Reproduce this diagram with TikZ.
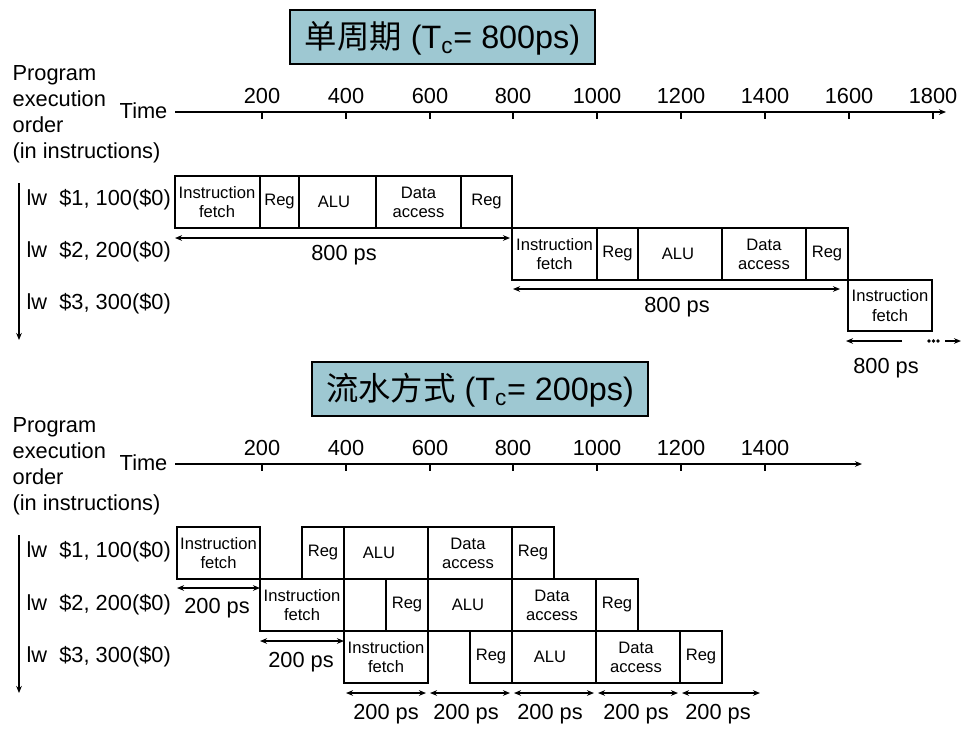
\documentclass[tikz,border=0pt]{standalone}
\usepackage{fontspec}
\setmainfont{Liberation Sans}
\newfontfamily\cjk{Noto Sans CJK SC}
\usetikzlibrary{arrows.meta}
\definecolor{titlefill}{RGB}{158,200,210}

\begin{document}
\begin{tikzpicture}[x=0.025cm, y=-0.025cm, line width=0.9pt,
    lbl/.style={font=\fontsize{15.5}{18.6}\selectfont, inner sep=0pt},
    stagetxt/.style={font=\fontsize{11.8}{13.6}\selectfont, align=center, inner sep=0pt},
    titlebox/.style={draw, line width=1.6pt, fill=titlefill},
    titletxt/.style={font=\fontsize{23}{27}\selectfont, inner sep=0pt},
    tip/.style={-{Stealth[length=5pt,width=4pt]}},
    both/.style={{Stealth[length=5pt,width=4pt]}-{Stealth[length=5pt,width=4pt]}}]
        \useasboundingbox (0,0) rectangle (972,731);

        % single cycle
        \draw[titlebox] (290,10) rectangle (595,64);
        \node[titletxt] (single) at (442.5,38) {{\cjk 单周期} (T\textsubscript{c}= 800ps)};

        \node[lbl, align=left, anchor=west] (order1) at (12,114) {Program\\execution\\order\\(in instructions)};
        \node[lbl, anchor=east] (time1) at (168,111) {Time};
        \draw[tip] (175,112) -- (946,112);
        \draw (262,112) -- (262,119);
        \draw (346,112) -- (346,119);
        \draw (430,112) -- (430,119);
        \draw (513,112) -- (513,119);
        \draw (597,112) -- (597,119);
        \draw (681,112) -- (681,119);
        \draw (765,112) -- (765,119);
        \draw (849,112) -- (849,119);
        \draw (933,112) -- (933,119);
        \node[lbl] (top200) at (262,96) {200};
        \node[lbl] (top400) at (346,96) {400};
        \node[lbl] (top600) at (430,96) {600};
        \node[lbl] (top800) at (513,96) {800};
        \node[lbl] (top1000) at (597,96) {1000};
        \node[lbl] (top1200) at (681,96) {1200};
        \node[lbl] (top1400) at (765,96) {1400};
        \node[lbl] (top1600) at (849,96) {1600};
        \node[lbl] (top1800) at (933,96) {1800};

        \node[lbl, anchor=west] (toplw1) at (26,200) {lw\ \ \$1, 100(\$0)};
        \node[lbl, anchor=west] (toplw2) at (26,252) {lw\ \ \$2, 200(\$0)};
        \node[lbl, anchor=west] (toplw3) at (26,304) {lw\ \ \$3, 300(\$0)};
        \draw[tip] (19,183) -- (19,340);

        \draw (175,176) rectangle (512,228);
        \draw (260,176) -- (260,228);
        \draw (299,176) -- (299,228);
        \draw (376,176) -- (376,228);
        \draw (461,176) -- (461,228);
        \node[stagetxt] (topif1) at (217,202) {Instruction\\fetch};
        \node[stagetxt] (topreg1a) at (279.5,202) {Reg};
        \node[stagetxt] (topalu1) at (334,202) {ALU};
        \node[stagetxt] (topdm1) at (418.5,202) {Data\\access};
        \node[stagetxt] (topreg1b) at (486.5,202) {Reg};

        \draw (512,228) rectangle (848,280);
        \draw (597,228) -- (597,280);
        \draw (638,228) -- (638,280);
        \draw (722,228) -- (722,280);
        \draw (806,228) -- (806,280);
        \node[stagetxt] (topif2) at (554.5,254) {Instruction\\fetch};
        \node[stagetxt] (topreg2a) at (617.5,254) {Reg};
        \node[stagetxt] (topalu2) at (678,254) {ALU};
        \node[stagetxt] (topdm2) at (764,254) {Data\\access};
        \node[stagetxt] (topreg2b) at (827,254) {Reg};

        \draw (848,280) rectangle (932,331);
        \node[stagetxt] (topif3) at (890,305.5) {Instruction\\fetch};

        \draw[both] (175,238) -- (510,238);
        \node[lbl] (span1) at (344,255) {800 ps};
        \draw[both] (513,289) -- (840,289);
        \node[lbl] (span2) at (677,307) {800 ps};
        \draw[tip] (902,341) -- (846,341);
        \fill (929,341) circle[radius=1.3pt];
        \fill (933.5,341) circle[radius=1.3pt];
        \fill (938,341) circle[radius=1.3pt];
        \draw[tip] (945,341) -- (961,341);
        \node[lbl] (span3) at (886,368) {800 ps};

        % pipelined
        \draw[titlebox] (312,362) rectangle (648,416);
        \node[titletxt] (pipe) at (480,390) {{\cjk 流水方式} (T\textsubscript{c}= 200ps)};

        \node[lbl, align=left, anchor=west] (order2) at (12,466) {Program\\execution\\order\\(in instructions)};
        \node[lbl, anchor=east] (time2) at (168,463) {Time};
        \draw[tip] (175,464) -- (862,464);
        \draw (262,464) -- (262,471);
        \draw (346,464) -- (346,471);
        \draw (430,464) -- (430,471);
        \draw (513,464) -- (513,471);
        \draw (597,464) -- (597,471);
        \draw (681,464) -- (681,471);
        \draw (765,464) -- (765,471);
        \node[lbl] (bot200) at (262,448) {200};
        \node[lbl] (bot400) at (346,448) {400};
        \node[lbl] (bot600) at (430,448) {600};
        \node[lbl] (bot800) at (513,448) {800};
        \node[lbl] (bot1000) at (597,448) {1000};
        \node[lbl] (bot1200) at (681,448) {1200};
        \node[lbl] (bot1400) at (765,448) {1400};

        \node[lbl, anchor=west] (botlw1) at (26,552) {lw\ \ \$1, 100(\$0)};
        \node[lbl, anchor=west] (botlw2) at (26,605) {lw\ \ \$2, 200(\$0)};
        \node[lbl, anchor=west] (botlw3) at (26,657) {lw\ \ \$3, 300(\$0)};
        \draw[tip] (19,535) -- (19,693);

        \draw (177,527) rectangle (260,579);
        \draw (302,527) rectangle (554,579);
        \draw (344,527) -- (344,579);
        \draw (428,527) -- (428,579);
        \draw (512,527) -- (512,579);
        \node[stagetxt] (botif1) at (218.5,553) {Instruction\\fetch};
        \node[stagetxt] (botreg1a) at (323,553) {Reg};
        \node[stagetxt] (botalu1) at (379,553) {ALU};
        \node[stagetxt] (botdm1) at (468,553) {Data\\access};
        \node[stagetxt] (botreg1b) at (533,553) {Reg};

        \draw (260,579) rectangle (344,631);
        \draw (386,579) rectangle (638,631);
        \draw (428,579) -- (428,631);
        \draw (512,579) -- (512,631);
        \draw (596,579) -- (596,631);
        \node[stagetxt] (botif2) at (302,605) {Instruction\\fetch};
        \node[stagetxt] (botreg2a) at (407,605) {Reg};
        \node[stagetxt] (botalu2) at (468,605) {ALU};
        \node[stagetxt] (botdm2) at (552,605) {Data\\access};
        \node[stagetxt] (botreg2b) at (617,605) {Reg};

        \draw (344,631) rectangle (428,683);
        \draw (470,631) rectangle (722,683);
        \draw (512,631) -- (512,683);
        \draw (596,631) -- (596,683);
        \draw (680,631) -- (680,683);
        \node[stagetxt] (botif3) at (386,657) {Instruction\\fetch};
        \node[stagetxt] (botreg3a) at (491,657) {Reg};
        \node[stagetxt] (botalu3) at (550,657) {ALU};
        \node[stagetxt] (botdm3) at (636,657) {Data\\access};
        \node[stagetxt] (botreg3b) at (701,657) {Reg};

        \draw[both] (177,588) -- (260,588);
        \node[lbl] (slot1) at (217,608) {200 ps};
        \draw[both] (260,641) -- (344,641);
        \node[lbl] (slot2) at (301,662) {200 ps};
        \draw[both] (346,693) -- (426,693);
        \draw[both] (430,693) -- (510,693);
        \draw[both] (514,693) -- (594,693);
        \draw[both] (598,693) -- (678,693);
        \draw[both] (682,693) -- (760,693);
        \node[lbl] (slot3) at (386,714) {200 ps};
        \node[lbl] (slot4) at (466,714) {200 ps};
        \node[lbl] (slot5) at (550,714) {200 ps};
        \node[lbl] (slot6) at (636,714) {200 ps};
        \node[lbl] (slot7) at (718,714) {200 ps};
    \end{tikzpicture}
\end{document}
